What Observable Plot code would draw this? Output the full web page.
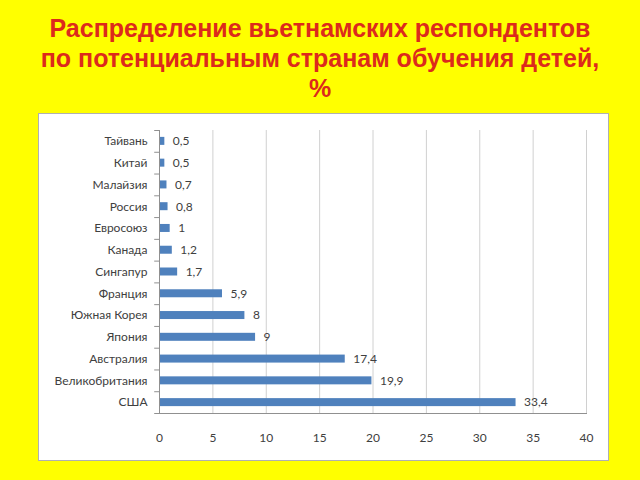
<!DOCTYPE html>
<html>
<head>
<meta charset="utf-8">
<script src="https://cdn.jsdelivr.net/npm/d3@7"></script>
<script src="https://cdn.jsdelivr.net/npm/@observablehq/plot@0.6"></script>
<style>
  html, body { margin: 0; padding: 0; width: 640px; height: 480px; background: #ffff00; overflow: hidden; }
  #title { position: absolute; left: 0; top: 13px; width: 640px; text-align: center;
    font-family: "Liberation Sans", Arial, sans-serif; font-weight: bold; font-size: 25px;
    line-height: 30px; color: #dc2a1c; }
  #box { position: absolute; left: 38px; top: 113px; width: 569px; height: 346px;
    background: #fff; border: 1px solid #b0b0b0; }
</style>
</head>
<body>
<div id="title">Распределение вьетнамских респондентов<br>по потенциальным странам обучения детей,<br>%</div>
<div id="box"></div>
<script>
const countries = ["Тайвань","Китай","Малайзия","Россия","Евросоюз","Канада","Сингапур","Франция","Южная Корея","Япония","Австралия","Великобритания","США"];
const values = [0.5,0.5,0.7,0.8,1,1.2,1.7,5.9,8,9,17.4,19.9,33.4];
const xTicks = [0,5,10,15,20,25,30,35,40];

const data = countries.map((c, i) => ({country: c, value: values[i]}));
const fmt = v => String(v).replace(".", ",");

const W = 569, H = 346, mt = 16, mb = 47;
const step = (H - mt - mb) / countries.length;
const inset = (step - 8) / 2;

const chart = Plot.plot({
  width: W, height: H,
  marginLeft: 120, marginRight: 22, marginTop: mt, marginBottom: mb,
  style: {fontFamily: "Lato, 'Open Sans', sans-serif", fontSize: "12px", color: "#404040", background: "transparent"},
  x: {domain: [0, 40], ticks: xTicks, label: null},
  y: {domain: countries, padding: 0, round: false, label: null},
  marks: [
    Plot.ruleX(xTicks.filter(d => d > 0), {stroke: "#d0d0d0", strokeWidth: 1}),
    Plot.ruleY(countries, {y: d => d, x1: -0.45, x2: 0, dy: -step / 2, stroke: "#909090"}),
    Plot.ruleY([countries[countries.length - 1]], {y: d => d, x1: -0.45, x2: 0, dy: step / 2, stroke: "#909090"}),
    Plot.barX(data, {x: "value", y: "country", fill: "#4f81bd", insetTop: inset, insetBottom: inset}),
    Plot.ruleX([0], {stroke: "#909090"}),
    Plot.frame({anchor: "bottom", stroke: "#909090"}),
    Plot.text(data, {x: "value", y: "country", text: d => fmt(d.value), dx: 8, textAnchor: "start", fill: "#404040", fontSize: 12}),
    Plot.axisX({ticks: xTicks, tickSize: 0, tickPadding: 20, tickFormat: d => String(d), fontSize: 12, label: null}),
    Plot.axisY({tickSize: 0, tickPadding: 12, fontSize: 12, label: null})
  ]
});
document.getElementById("box").appendChild(chart);
</script>
</body>
</html>
